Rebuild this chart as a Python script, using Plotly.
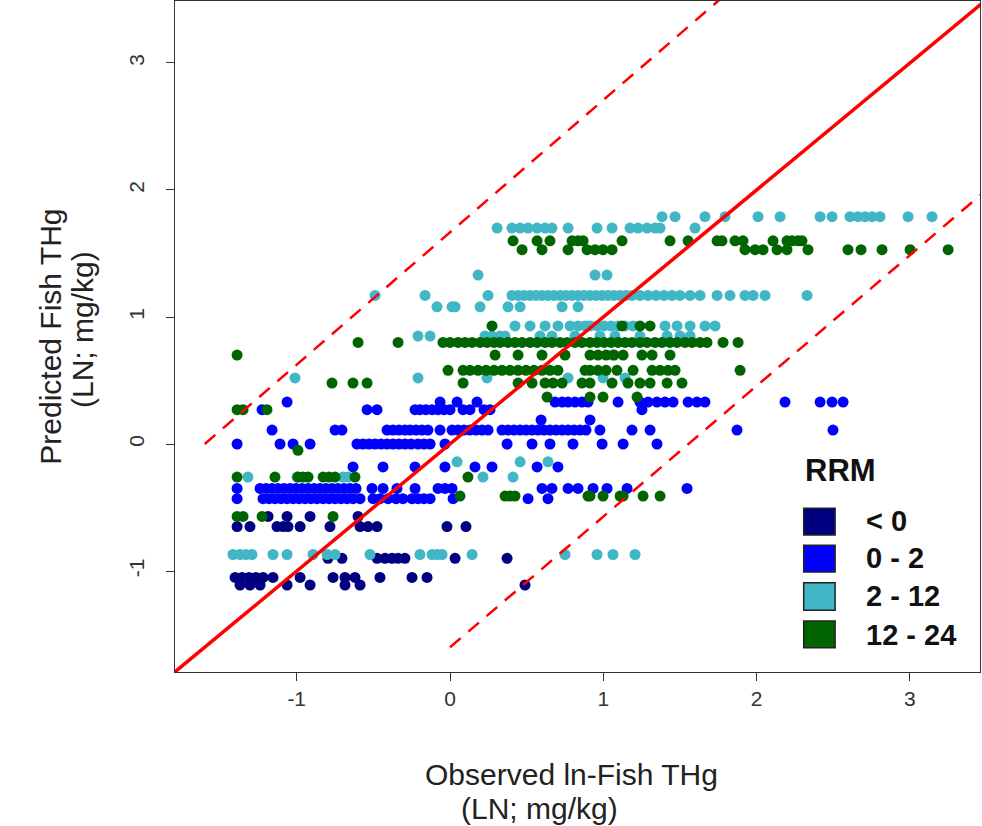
import plotly.graph_objects as go

# ---------------- data (ln units) ----------------
LT0_LEVELS = [-0.57, -0.65, -0.90, -1.05, -1.11]
LT0_X = [
    [-1.187, -1.063, -0.913, -0.600],
    [-1.389, -1.305, -1.129, -1.089, -1.057, -0.978, -0.783, -0.587, -0.535, -0.476, -0.020, 0.104],
    [-0.796, -0.705, -0.476, -0.424, -0.378, -0.339, -0.294, 0.033, 0.372],
    [-1.402, -1.357, -1.311, -1.266, -1.220, -1.155, -0.978, -0.763, -0.685, -0.620, -0.457, -0.248, -0.150],
    [-1.370, -1.305, -1.239, -1.063, -0.913, -0.685, -0.587, 0.489],
]

B02_LEVELS = [0.33, 0.27, 0.19, 0.11, 0.00, -0.18, -0.35, -0.43]
B02_X = [
    [-1.063, -0.065, 0.046, 0.176, 0.685, 0.731, 0.770, 0.815, 0.861, 0.900, 1.096, 1.239, 1.292, 1.350,
     1.402, 1.455, 1.553, 1.611, 1.663, 2.185, 2.414, 2.492, 2.564],
    [-1.226, -0.541, -0.476, -0.228, -0.196, -0.157, -0.117, -0.078, -0.039, 0.0, 0.085, 0.130, 0.222, 0.261, 1.252],
    [0.594, 0.913],
    [-1.161, -0.750, -0.705, -0.411, -0.372, -0.333, -0.294, -0.261, -0.222, -0.183, -0.144, -0.065, 0.013,
     0.052, 0.091, 0.130, 0.170, 0.209, 0.248, 0.339, 0.378, 0.417, 0.457, 0.496, 0.535, 0.574, 0.613, 0.652,
     0.691, 0.731, 0.770, 0.809, 0.848, 0.887, 0.978, 1.187, 1.305, 1.872, 2.498],
    [-1.389, -1.109, -1.024, -0.913, -0.607, -0.568, -0.528, -0.489, -0.450, -0.411, -0.372, -0.333, -0.294,
     -0.254, -0.209, -0.170, -0.130, -0.033, 0.372, 0.535, 0.652, 0.802, 0.992, 1.129, 1.350],
    [-0.633, -0.437, -0.228, -0.033, 0.163, 0.274, 0.568, 0.704],
    [-1.389, -1.239, -1.200, -1.161, -1.122, -1.083, -1.044, -1.005, -0.965, -0.926, -0.887, -0.848, -0.809,
     -0.770, -0.731, -0.691, -0.652, -0.613, -0.509, -0.437, -0.346, -0.228, -0.078, -0.033, 0.013, 0.600,
     0.665, 0.770, 0.835, 0.933, 1.024, 1.155, 1.546],
    [-1.389, -1.220, -1.181, -1.142, -1.102, -1.063, -1.024, -0.985, -0.946, -0.907, -0.868, -0.828, -0.789,
     -0.750, -0.711, -0.672, -0.633, -0.587, -0.502, -0.457, -0.404, -0.352, -0.307, -0.248, -0.209, -0.170,
     -0.130, 0.020, 0.509, 0.639],
]

C212_LEVELS = [1.79, 1.70, 1.33, 1.17, 1.08, 0.93, 0.85, 0.70, 0.52, -0.14, -0.26, -0.87]
C212_X = [
    [1.383, 1.468, 1.663, 1.794, 2.009, 2.153, 2.414, 2.492, 2.609, 2.661, 2.707, 2.753, 2.805, 2.988, 3.144],
    [0.307, 0.404, 0.457, 0.509, 0.568, 0.620, 0.665, 0.770, 0.959, 1.057, 1.174, 1.226, 1.285, 1.337, 1.370, 1.598],
    [0.183, 0.946, 1.024],
    [-0.489, -0.163, 0.248, 0.404, 0.444, 0.483, 0.522, 0.561, 0.600, 0.639, 0.678, 0.718, 0.757, 0.796, 0.835,
     0.874, 0.913, 0.952, 0.992, 1.031, 1.070, 1.109, 1.148, 1.187, 1.239, 1.292, 1.344, 1.396, 1.448, 1.500,
     1.566, 1.631, 1.742, 1.826, 1.924, 1.977, 2.055, 2.329],
    [-0.085, 0.013, 0.033, 0.196, 0.378, 0.457, 0.731, 0.835],
    [0.424, 0.522, 0.620, 0.704, 0.783, 0.835, 0.881, 0.913, 0.959, 1.005, 1.050, 1.096, 1.142, 1.194, 1.402,
     1.481, 1.566, 1.663, 1.729],
    [-0.209, -0.130, 0.228, 0.274, 0.326, 0.359, 0.587, 0.665, 0.815, 0.978, 1.076, 1.239, 1.416, 1.500, 1.566],
    [1.057],
    [-1.011, -0.209, 0.241, 0.770, 0.998, 1.142],
    [0.046, 0.457, 0.639],
    [-1.318, -0.998, -0.698, -0.665, 0.215, 0.411],
    [-1.416, -1.370, -1.331, -1.292, -1.155, -1.063, -0.894, -0.802, -0.750, -0.522, -0.196, -0.117, -0.085,
     -0.052, 0.144, 0.750, 0.959, 1.063, 1.207],
]

G1224_LEVELS = [1.60, 1.53, 0.93, 0.80, 0.70, 0.58, 0.48, 0.37, 0.27, -0.05, -0.26, -0.41, -0.57]
G1224_X = [
    [0.411, 0.568, 0.652, 0.796, 0.835, 0.868, 1.122, 1.435, 1.553, 1.742, 1.774, 1.859, 1.911, 2.107, 2.198,
     2.231, 2.270, 2.296],
    [0.470, 0.600, 0.770, 0.894, 0.946, 0.998, 1.057, 1.924, 1.990, 2.042, 2.133, 2.198, 2.335, 2.596, 2.681,
     2.818, 3.001, 3.249],
    [0.274, 1.122, 1.239, 1.305],
    [-0.600, -0.339, -0.046, 0.0, 0.052, 0.098, 0.144, 0.196, 0.241, 0.287, 0.326, 0.378, 0.424, 0.470, 0.522,
     0.568, 0.620, 0.665, 0.718, 0.763, 0.815, 0.861, 0.913, 0.959, 1.005, 1.050, 1.096, 1.142, 1.187, 1.239,
     1.285, 1.337, 1.383, 1.435, 1.481, 1.533, 1.579, 1.631, 1.676, 1.781, 1.879],
    [-1.389, 0.294, 0.444, 0.600, 0.750, 0.913, 0.965, 1.018, 1.070, 1.129, 1.252, 1.318, 1.435],
    [-0.013, 0.085, 0.130, 0.183, 0.235, 0.287, 0.339, 0.391, 0.444, 0.496, 0.548, 0.600, 0.652, 0.704, 0.881,
     0.913, 0.965, 1.018, 1.089, 1.194, 1.318, 1.370, 1.422, 1.468, 1.892],
    [-0.770, -0.633, -0.541, 0.085, 0.444, 0.535, 0.620, 0.672, 0.731, 0.861, 0.913, 1.057, 1.161, 1.239,
     1.305, 1.416, 1.513],
    [0.633, 0.913, 0.998, 1.220],
    [-1.389, -1.350, -1.194],
    [-0.992],
    [-1.389, -1.142, -0.992, -0.959, -0.926, -0.828, -0.789, -0.750, -0.620, 0.117],
    [0.065, 0.359, 0.391, 0.424, 0.900, 0.913, 0.998, 1.109, 1.129, 1.259, 1.370],
    [-1.389, -1.350, -1.226, -0.763],
]

SERIES_NAMES = ["< 0", "0 - 2", "2 - 12", "12 - 24"]
SERIES_COLORS = ["#000080", "#0000FF", "#41B7C6", "#006400"]

# reference lines
ONE_TO_ONE = [-1.8, 3.5]
UPPER_X = [-1.6, 1.76]
UPPER_Y = [0.0, 3.5]
LOWER_X = [0.0, 3.46]
LOWER_Y = [-1.6, 1.96]

X_RANGE = [-1.794, 3.457]
Y_RANGE = [-1.795, 3.488]
TICKS = [-1, 0, 1, 2, 3]
TICK_LABELS = ["-1", "0", "1", "2", "3"]


def expand(levels, xs):
    ox, oy = [], []
    for lv, row in zip(levels, xs):
        for v in row:
            ox.append(v)
            oy.append(lv)
    return ox, oy


fig = go.Figure()
groups = [(LT0_LEVELS, LT0_X), (B02_LEVELS, B02_X), (C212_LEVELS, C212_X), (G1224_LEVELS, G1224_X)]
for (lv, xs), name, col in zip(groups, SERIES_NAMES, SERIES_COLORS):
    x, y = expand(lv, xs)
    fig.add_trace(go.Scatter(x=x, y=y, mode="markers", name=name,
                             marker=dict(color=col, size=11, line=dict(width=0)),
                             showlegend=False))

fig.add_trace(go.Scatter(x=ONE_TO_ONE, y=ONE_TO_ONE, mode="lines",
                         line=dict(color="#FF0000", width=3.5), showlegend=False))
fig.add_trace(go.Scatter(x=UPPER_X, y=UPPER_Y, mode="lines",
                         line=dict(color="#FF0000", width=2.5, dash="14px,10px"), showlegend=False))
fig.add_trace(go.Scatter(x=LOWER_X, y=LOWER_Y, mode="lines",
                         line=dict(color="#FF0000", width=2.5, dash="14px,10px"), showlegend=False))

FONT = "Liberation Sans, Arial, sans-serif"
axis_common = dict(showline=True, linecolor="#333333", linewidth=1, mirror=True,
                   ticks="outside", ticklen=8, tickcolor="#333333", showgrid=False,
                   zeroline=False, tickvals=TICKS, ticktext=TICK_LABELS,
                   tickfont=dict(family=FONT, size=21, color="#333333"))
fig.update_xaxes(range=X_RANGE, ticklabelstandoff=0, **axis_common)
fig.update_yaxes(range=Y_RANGE, tickangle=-90, ticklabelstandoff=14, **axis_common)

annotations = [
    dict(text="Predicted Fish THg", x=-0.155, y=0.5, textangle=-90),
    dict(text="(LN; mg/kg)", x=-0.114, y=0.51, textangle=-90),
    dict(text="Observed ln-Fish THg", x=0.492, y=-0.1535),
    dict(text="(LN; mg/kg)", x=0.453, y=-0.2027),
]
for a in annotations:
    fig.add_annotation(xref="paper", yref="paper", showarrow=False,
                       xanchor="center", yanchor="middle",
                       font=dict(family=FONT, size=30, color="#222222"), **a)

# legend (drawn manually to mimic R's legend)
fig.add_annotation(xref="paper", yref="paper", x=0.780, y=0.301, xanchor="left", yanchor="middle",
                   text="<b>RRM</b>", showarrow=False, font=dict(family=FONT, size=31, color="#111111"))
box_y = [(0.204, 0.244), (0.149, 0.189), (0.092, 0.133), (0.036, 0.076)]
label_y = [0.225, 0.170, 0.113, 0.055]
for (y0, y1), ly, name, col in zip(box_y, label_y, SERIES_NAMES, SERIES_COLORS):
    fig.add_shape(type="rect", xref="paper", yref="paper", x0=0.781, x1=0.820, y0=y0, y1=y1,
                  fillcolor=col, line=dict(color="#222222", width=1.5))
    fig.add_annotation(xref="paper", yref="paper", x=0.856, y=ly, xanchor="left", yanchor="middle",
                       text="<b>" + name.replace("<", "&lt;") + "</b>", showarrow=False,
                       font=dict(family=FONT, size=29, color="#111111"))

fig.update_layout(width=982, height=826, margin=dict(l=175, r=2, t=1, b=154, autoexpand=False),
                  plot_bgcolor="white", paper_bgcolor="white")

fig.write_html("out.html", config={"displayModeBar": False},
               post_script="document.body.style.margin='0px';document.body.style.overflow='hidden';")
